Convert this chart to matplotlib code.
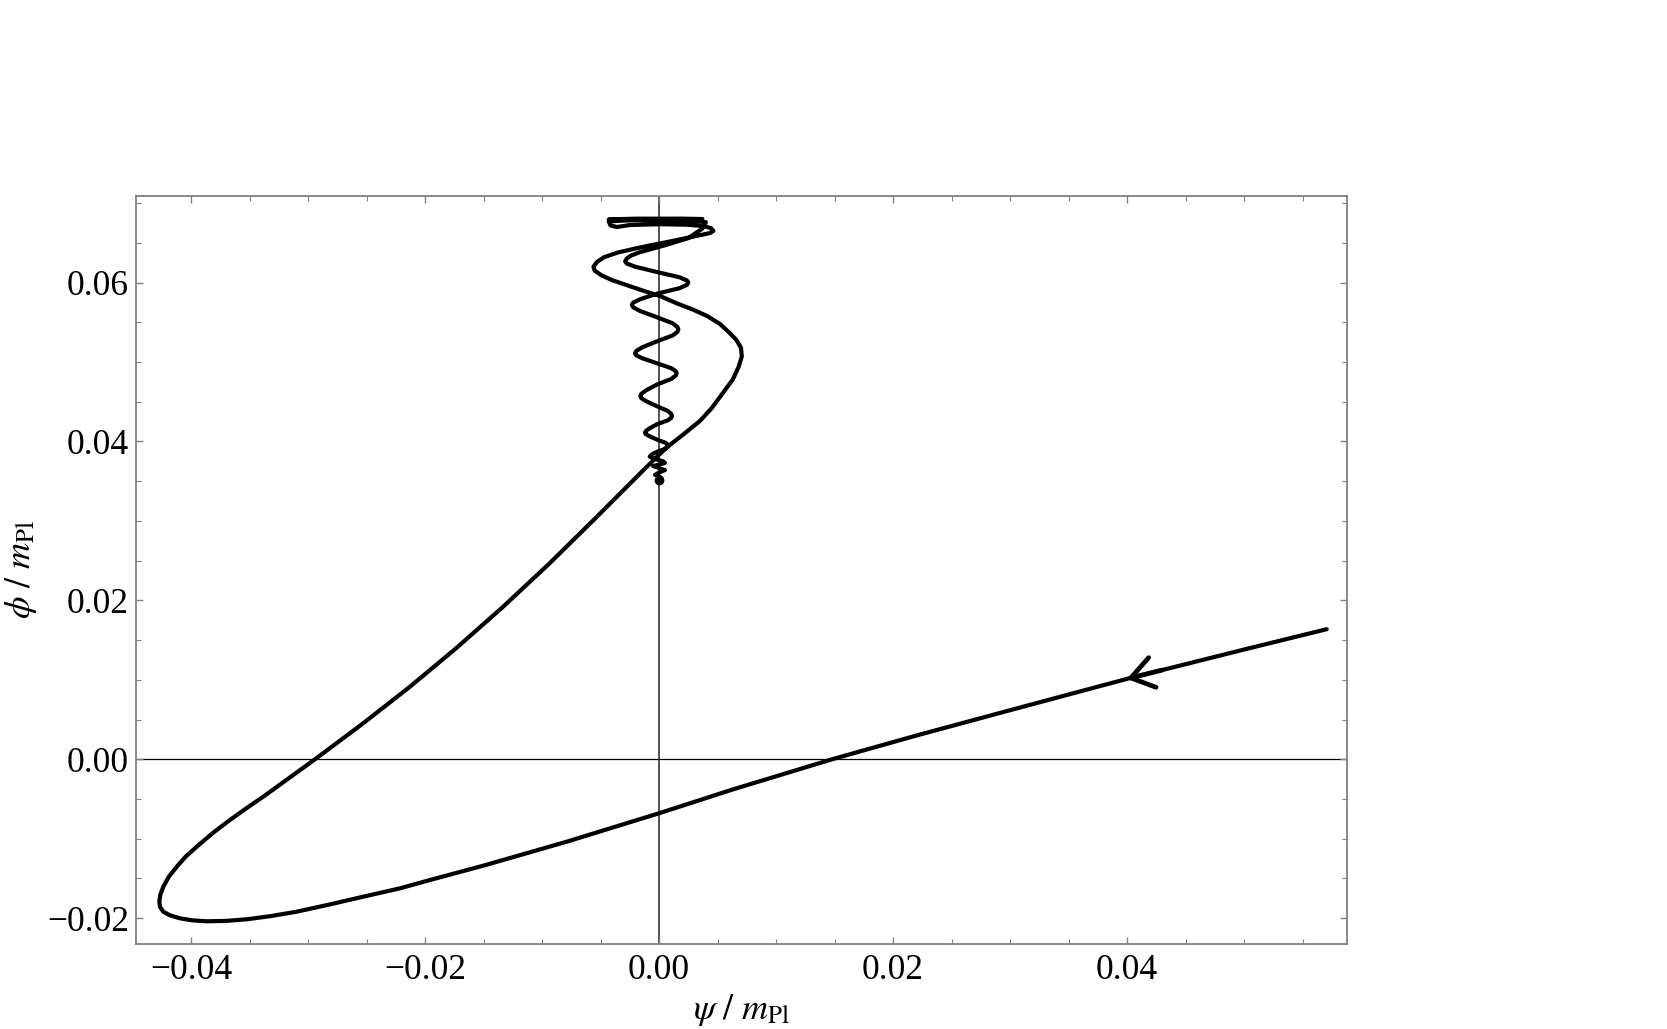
import matplotlib
matplotlib.use("Agg")
import matplotlib.pyplot as plt
from matplotlib.ticker import MultipleLocator

plt.rcParams['font.family'] = ['Liberation Serif', 'DejaVu Serif']
plt.rcParams['mathtext.fontset'] = 'stix'

# field trajectory (psi / m_Pl, phi / m_Pl), in time order
psi = [0.05706, 0.05051, 0.03997, 0.03057, 0.02203, 0.01480, 0.00635, 0.00000,
       -0.00789, -0.01502, -0.01957, -0.02214, -0.02527, -0.02820, -0.03097,
       -0.03320, -0.03524, -0.03700, -0.03866, -0.03990, -0.04094, -0.04180,
       -0.04237, -0.04265, -0.04271, -0.04262, -0.04237, -0.04190, -0.04122,
       -0.04045, -0.03951, -0.03815, -0.03667, -0.03525, -0.03382, -0.03170,
       -0.02940, -0.02540, -0.02140, -0.01740, -0.01340, -0.00940, -0.00540,
       -0.00140, 0.00060, 0.00200, 0.00350, 0.00450, 0.00550, 0.00630,
       0.00680, 0.00707, 0.00700, 0.00660, 0.00600, 0.00520, 0.00410,
       0.00290, 0.00150, 0.00010, -0.00140, -0.00280, -0.00400, -0.00490,
       -0.00550, -0.00561, -0.00530, -0.00470, -0.00350, -0.00200, -0.00049,
       0.00100, 0.00237, 0.00360, 0.00436, 0.00464, 0.00445, 0.00380,
       0.00237, 0.00000, -0.00250, -0.00360, -0.00415, -0.00430,
       # flat band at the top
       -0.00200, 0.00150, 0.00370, 0.00200, -0.00200, -0.00430, -0.00200,
       0.00200, 0.00360, 0.00400,
       # damped oscillation down to the end point
       0.00370, 0.00250, 0.00050, -0.00170, -0.00240, -0.00275, -0.00290,
       -0.00276, -0.00203, -0.00020, 0.00175, 0.00238, 0.00250,
       0.00238, 0.00175, -0.00020, -0.00163, -0.00221, -0.00233,
       -0.00221, -0.00163, -0.00020, 0.00116, 0.00157, 0.00165,
       0.00157, 0.00116, -0.00020, -0.00144, -0.00195, -0.00205,
       -0.00195, -0.00144, -0.00020, 0.00105, 0.00143, 0.00150,
       0.00143, 0.00105, -0.00020, -0.00112, -0.00152, -0.00160,
       -0.00152, -0.00112, -0.00020, 0.00077, 0.00105, 0.00110,
       0.00105, 0.00077, -0.00020, -0.00084, -0.00114, -0.00120,
       -0.00114, -0.00084, -0.00020, 0.00056, 0.00076, 0.00080,
       0.00056, -0.00010, -0.00056, -0.00080,
       -0.00056, -0.00010, 0.00035, 0.00050,
       0.00000, -0.00050, 0.00000, 0.00050, 0.00000, -0.00034, 0.00000,
       0.00020, 0.00000]
phi = [0.01637, 0.01400, 0.01011, 0.00640, 0.00300, 0.00000, -0.00378, -0.00680,
       -0.01038, -0.01340, -0.01520, -0.01625, -0.01730, -0.01830, -0.01919,
       -0.01975, -0.02015, -0.02035, -0.02040, -0.02028, -0.02003, -0.01965,
       -0.01919, -0.01860, -0.01793, -0.01705, -0.01605, -0.01480, -0.01353,
       -0.01225, -0.01101, -0.00930, -0.00764, -0.00615, -0.00471, -0.00245,
       0.00000, 0.00440, 0.00900, 0.01390, 0.01910, 0.02460, 0.03040,
       0.03630, 0.03920, 0.04080, 0.04260, 0.04420, 0.04620, 0.04780,
       0.04940, 0.05070, 0.05180, 0.05280, 0.05370, 0.05480, 0.05580,
       0.05660, 0.05740, 0.05830, 0.05900, 0.05970, 0.06030, 0.06090,
       0.06150, 0.06200, 0.06260, 0.06320, 0.06380, 0.06430, 0.06477,
       0.06520, 0.06562, 0.06600, 0.06625, 0.06650, 0.06685, 0.06712,
       0.06729, 0.06735, 0.06725, 0.06700, 0.06720, 0.06770,
       0.06790, 0.06800, 0.06800, 0.06805, 0.06805, 0.06795, 0.06785,
       0.06780, 0.06770, 0.06760,
       0.06680, 0.06560, 0.06470, 0.06380, 0.06340, 0.06305, 0.06267,
       0.06240, 0.06200, 0.06134, 0.06067, 0.06027, 0.06000,
       0.05972, 0.05930, 0.05860, 0.05790, 0.05748, 0.05720,
       0.05689, 0.05643, 0.05565, 0.05488, 0.05441, 0.05410,
       0.05380, 0.05335, 0.05260, 0.05185, 0.05140, 0.05110,
       0.05085, 0.05048, 0.04985, 0.04923, 0.04885, 0.04860,
       0.04831, 0.04788, 0.04715, 0.04643, 0.04599, 0.04570,
       0.04545, 0.04508, 0.04445, 0.04383, 0.04345, 0.04320,
       0.04299, 0.04268, 0.04215, 0.04163, 0.04131, 0.04110,
       0.04093, 0.04068, 0.04025, 0.03983, 0.03957, 0.03940,
       0.03908, 0.03875, 0.03843, 0.03810,
       0.03790, 0.03770, 0.03750, 0.03730,
       0.03710, 0.03690, 0.03665, 0.03640, 0.03610, 0.03580, 0.03560,
       0.03540, 0.03510]

arrow_tip = (0.03997, 0.01011)
arrow_tail = (0.04300, 0.01123)

xticks = [-0.04, -0.02, 0.00, 0.02, 0.04]
xticklabels = ['\u22120.04', '\u22120.02', '0.00', '0.02', '0.04']
yticks = [-0.02, 0.00, 0.02, 0.04, 0.06]
yticklabels = ['\u22120.02', '0.00', '0.02', '0.04', '0.06']

fig = plt.figure(figsize=(16.67, 10.29), dpi=100)
ax = fig.add_axes([0.0816, 0.0826, 0.7265, 0.7269])

ax.axhline(0, color='black', lw=0.9, zorder=1)
ax.axvline(0, color='#222222', lw=1.1, zorder=1)

ax.plot(psi, phi, color='black', lw=3.0, solid_joinstyle='round',
        solid_capstyle='round', zorder=3)
ax.plot(psi[-1], phi[-1], 'o', color='black', ms=6, zorder=3)

ax.annotate('', xy=arrow_tip, xytext=arrow_tail,
            arrowprops=dict(arrowstyle='->,head_length=0.8,head_width=0.55',
                            color='black', lw=3.4, shrinkA=0, shrinkB=0,
                            mutation_scale=20), zorder=4)

ax.set_xlim(-0.0447, 0.0588)
ax.set_ylim(-0.02326, 0.0709)

ax.set_xticks(xticks)
ax.set_xticklabels(xticklabels)
ax.set_yticks(yticks)
ax.set_yticklabels(yticklabels)
ax.xaxis.set_minor_locator(MultipleLocator(0.005))
ax.yaxis.set_minor_locator(MultipleLocator(0.005))

for s in ax.spines.values():
    s.set_color('#808080')
    s.set_linewidth(1.3)

ax.tick_params(which='both', direction='in', top=True, right=True,
               color='#808080', labelsize=25.5)
ax.tick_params(which='major', length=5, width=1.0)
ax.tick_params(which='minor', length=3.5, width=0.8)
ax.tick_params(axis='x', pad=7)
ax.tick_params(axis='y', pad=5)

ax.set_xlabel(r'$\psi\ /\ m_{\mathrm{Pl}}$', fontsize=26, labelpad=4)
ax.set_ylabel(r'$\phi\ /\ m_{\mathrm{Pl}}$', fontsize=26, labelpad=6)

fig.savefig('out.png', dpi=100)
